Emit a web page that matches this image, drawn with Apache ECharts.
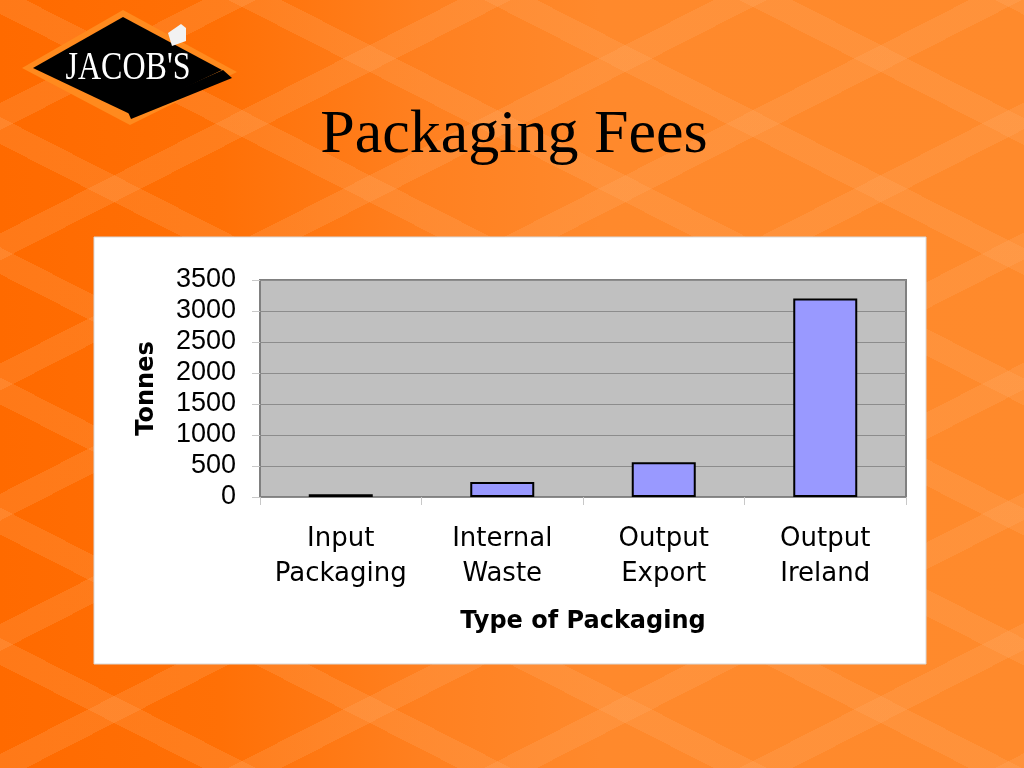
<!DOCTYPE html>
<html>
<head>
<meta charset="utf-8">
<script src="https://cdn.jsdelivr.net/npm/echarts@6/dist/echarts.min.js"></script>
<style>
html, body { margin: 0; padding: 0; width: 1024px; height: 768px; overflow: hidden; }
body {
  background-color: #FF8A2C;
  background-image:
    repeating-linear-gradient(27deg, rgba(255,255,255,0) 0px, rgba(255,255,255,0) 92px, rgba(255,175,110,0.22) 92px, rgba(255,175,110,0.22) 116px),
    repeating-linear-gradient(153deg, rgba(255,255,255,0) 0px, rgba(255,255,255,0) 92px, rgba(255,175,110,0.22) 92px, rgba(255,175,110,0.22) 116px),
    linear-gradient(90deg, #FF6A00 0px, #FF7006 220px, #FF8020 420px, #FF892C 600px, #FF8A2C 1024px);
}
#chart { width: 1024px; height: 768px; }
</style>
</head>
<body>
<div id="chart"></div>
<script>
const categories = ['Input\nPackaging', 'Internal\nWaste', 'Output\nExport', 'Output\nIreland'];
const tonnes = [45, 240, 560, 3200];
const yTicks = { min: 0, max: 3500, interval: 500 };
const titleText = 'Packaging Fees';
const xName = 'Type of Packaging';
const yName = 'Tonnes';

const chart = echarts.init(document.getElementById('chart'), null, { renderer: 'canvas' });
chart.setOption({
  backgroundColor: 'transparent',
  animation: false,
  title: {
    text: titleText,
    left: 509,
    top: 100,
    textAlign: 'center',
    textStyle: { fontFamily: 'Liberation Serif', fontWeight: 'normal', fontSize: 62, color: '#000' }
  },
  graphic: [
    { type: 'rect', z: -10, shape: { x: 94, y: 237, width: 832, height: 427 },
      style: { fill: '#ffffff', stroke: '#d9d9d9', lineWidth: 1 } },
    { type: 'polygon', z: 5, shape: { points: [[22,68],[123,10],[237,72],[130,125]] }, style: { fill: '#FF8A1E' } },
    { type: 'polygon', z: 6, shape: { points: [[128,112],[223,70],[232,78],[131,119]] }, style: { fill: '#000' } },
    { type: 'polygon', z: 6, shape: { points: [[33,68],[123,17],[222,70],[130,114]] }, style: { fill: '#000' } },
    { type: 'polygon', z: 7, shape: { points: [[168,33],[181,24],[186,28],[186,41],[172,46]] }, style: { fill: '#f2f2f2' } },
    { type: 'text', z: 8, x: 128, y: 68, scaleX: 0.8,
      style: { text: "JACOB'S", fill: '#fff', font: '40px "Liberation Serif"', align: 'center', verticalAlign: 'middle' } }
  ],
  grid: {
    left: 260, right: 118, top: 280, bottom: 271,
    show: true, backgroundColor: '#C0C0C0', borderColor: '#808080', borderWidth: 2
  },
  xAxis: {
    type: 'category',
    data: categories,
    boundaryGap: true,
    name: xName,
    nameLocation: 'middle',
    nameGap: 113,
    nameTextStyle: { fontFamily: 'DejaVu Sans', fontWeight: 'bold', fontSize: 24, color: '#000' },
    axisLine: { show: false },
    axisTick: { show: true, alignWithLabel: false, length: 8, lineStyle: { color: '#c8c8c8', width: 1 } },
    axisLabel: { fontFamily: 'DejaVu Sans', fontSize: 26, color: '#000', lineHeight: 35, margin: 25, interval: 0 }
  },
  yAxis: {
    type: 'value',
    min: yTicks.min, max: yTicks.max, interval: yTicks.interval,
    name: yName,
    nameLocation: 'middle',
    nameRotate: 90,
    nameGap: 101,
    nameTextStyle: { fontFamily: 'DejaVu Sans', fontWeight: 'bold', fontSize: 24, color: '#000' },
    axisLine: { show: false },
    axisTick: { show: true, length: 8, lineStyle: { color: '#c8c8c8', width: 1 } },
    axisLabel: { fontFamily: 'Liberation Sans', fontSize: 27, color: '#000', margin: 24,
      padding: [6, 0, 0, 0],
      formatter: function (v) { return String(v); } },
    splitLine: { show: true, lineStyle: { color: '#8c8c8c', width: 1 } }
  },
  series: [{
    type: 'bar',
    data: tonnes,
    barWidth: 64,
    itemStyle: { color: '#9999FF', borderColor: '#000', borderWidth: 2 }
  }]
});
</script>
</body>
</html>
